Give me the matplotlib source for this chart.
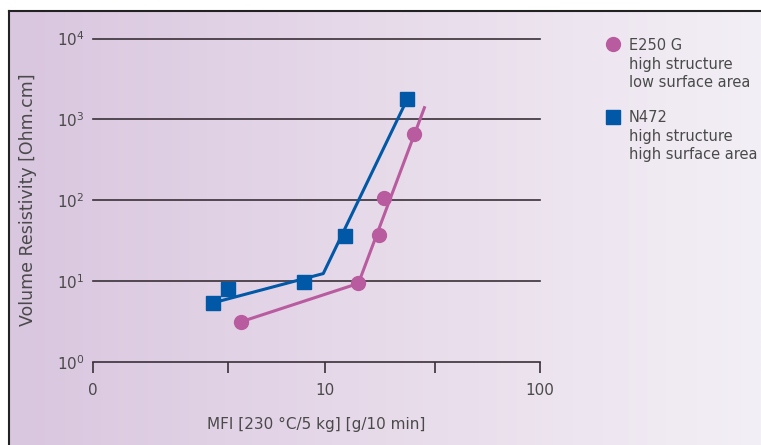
import numpy as np
import matplotlib
matplotlib.use("Agg")
import matplotlib.pyplot as plt
from matplotlib.lines import Line2D
from matplotlib.colors import LinearSegmentedColormap

# measured points
e250_mfi = [4.34, 14.3, 17.8, 18.75, 25.9]
e250_res = [3.14, 9.37, 36.7, 108, 653]
n472_mfi = [3.30, 3.83, 8.12, 12.43, 24.1]
n472_res = [5.40, 8.04, 9.72, 35.9, 1766]

# trend lines
e250_fit_mfi = [4.34, 14.3, 29.0]
e250_fit_res = [3.14, 9.37, 1394]
n472_fit_mfi = [3.30, 9.83, 24.1]
n472_fit_res = [5.40, 12.4, 1766]

x_ticks = [1, 3.82, 10, 32.5, 100]
x_labels = ["0", "", "10", "", "100"]
y_ticks = [1, 10, 100, 1000, 10000]
y_labels = ["10$^0$", "10$^1$", "10$^2$", "10$^3$", "10$^4$"]

pink = "#b95c9f"
blue = "#0058a6"
grey = "#4a4a4a"

plt.rcParams['font.family'] = ['DejaVu Sans']


# the x axis is logarithmic but the two decades are not drawn the same width
def fwd(x):
    lx = np.log10(np.clip(x, 1e-6, None))
    return np.where(lx <= 1, lx * 232.0, 232.0 + (lx - 1) * 215.0)


def inv(v):
    v = np.asarray(v, dtype=float)
    return np.where(v <= 232.0, 10 ** (v / 232.0), 10 ** (1 + (v - 232.0) / 215.0))


fig = plt.figure(figsize=(7.61, 4.45), dpi=100)

# gradient background with frame
bg = fig.add_axes([10 / 761, 0, 1 - 10 / 761, 1 - 12 / 445])
grad = np.linspace(0, 1, 256).reshape(1, -1)
cmap = LinearSegmentedColormap.from_list("bg", ["#d9c6df", "#e7dbea", "#f3eff6"])
bg.imshow(grad, aspect="auto", cmap=cmap, extent=[0, 1, 0, 1])
bg.set_xlim(0, 1)
bg.set_ylim(0, 1)
bg.axis("off")
fig.add_artist(Line2D([9 / 761, 9 / 761], [0, 1 - 11 / 445], color="#222222", lw=1.5))
fig.add_artist(Line2D([9 / 761, 1], [1 - 11 / 445, 1 - 11 / 445], color="#222222", lw=1.5))

ax = fig.add_axes([93 / 761, 1 - 362 / 445, (540 - 93) / 761, (362 - 38.5) / 445])
ax.patch.set_alpha(0)
ax.set_xscale("function", functions=(fwd, inv))
ax.set_yscale("log")
ax.set_xlim(1, 100)
ax.set_ylim(1, 10000)

for v in [10, 100, 1000, 10000]:
    ax.axhline(v, color="#3a3038", lw=1.2, zorder=1, clip_on=False)

ax.plot(e250_fit_mfi, e250_fit_res, color=pink, lw=2.2, zorder=3, clip_on=False)
ax.plot(n472_fit_mfi, n472_fit_res, color=blue, lw=2.2, zorder=3, clip_on=False)
ax.plot(e250_mfi, e250_res, "o", color=pink, ms=10, zorder=4, clip_on=False)
ax.plot(n472_mfi, n472_res, "s", color=blue, ms=10, zorder=4, clip_on=False)

for s in ["top", "right", "left"]:
    ax.spines[s].set_visible(False)
ax.spines["bottom"].set_color("#3a3038")
ax.spines["bottom"].set_linewidth(1.2)

ax.set_xticks(x_ticks)
ax.set_xticklabels(x_labels)
ax.xaxis.set_minor_locator(matplotlib.ticker.NullLocator())
ax.tick_params(axis="x", direction="out", length=8, width=1.2, color="#3a3038",
               labelsize=11, labelcolor=grey, pad=7)
ax.set_yticks(y_ticks)
ax.set_yticklabels(y_labels)
ax.yaxis.set_minor_locator(matplotlib.ticker.NullLocator())
ax.tick_params(axis="y", length=0, labelsize=11, labelcolor=grey, pad=6)

ax.set_xlabel("MFI [230 °C/5 kg] [g/10 min]", fontsize=11, color=grey, labelpad=14)
fig.text(28 / 761, 1 - 200 / 445, "Volume Resistivity [Ohm.cm]", rotation=90,
         fontsize=12.5, color=grey, ha="center", va="center")

# legend drawn by hand
lg = fig.add_axes([0, 0, 1, 1])
lg.set_xlim(0, 761)
lg.set_ylim(445, 0)
lg.axis("off")
lg.plot([613], [44], "o", color=pink, ms=10)
lg.plot([613], [117], "s", color=blue, ms=10)
lg.text(629, 64, "E250 G\nhigh structure\nlow surface area", fontsize=10.5, color=grey,
        va="center", ha="left", linespacing=1.3)
lg.text(629, 136, "N472\nhigh structure\nhigh surface area", fontsize=10.5, color=grey,
        va="center", ha="left", linespacing=1.3)

fig.savefig("out.png", dpi=100)
